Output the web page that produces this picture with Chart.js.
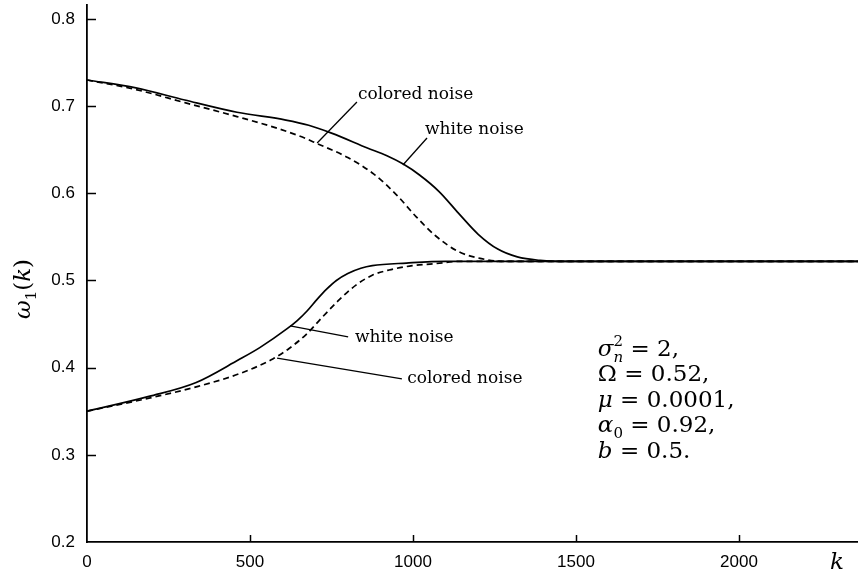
<!DOCTYPE html>
<html>
<head>
<meta charset="utf-8">
<script src="https://cdn.jsdelivr.net/npm/chart.js@4.4.1/dist/chart.umd.min.js"></script>
<style>
  html, body { margin: 0; padding: 0; background: #fff; }
  #wrap { width: 858px; height: 576px; }
</style>
</head>
<body>
<div id="wrap"><canvas id="omegaChart"></canvas></div>
<script>
// values: k (iterations) and w1(k)
const kWhiteUpper = [0, 150, 300, 460, 610, 680, 750, 860, 920, 970, 1020, 1080, 1140, 1200, 1260, 1320, 1390, 1450, 2365];
const wWhiteUpper = [0.730, 0.721, 0.707, 0.693, 0.684, 0.678, 0.669, 0.652, 0.643, 0.6335, 0.621, 0.602, 0.577, 0.553, 0.536, 0.527, 0.523, 0.522, 0.522];

const kColoredUpper = [0, 150, 300, 460, 580, 670, 700, 800, 880, 950, 1010, 1070, 1140, 1210, 1270, 1350, 2365];
const wColoredUpper = [0.730, 0.719, 0.704, 0.688, 0.675, 0.663, 0.658, 0.641, 0.622, 0.598, 0.573, 0.551, 0.533, 0.525, 0.522, 0.522, 0.522];

const kWhiteLower = [0, 190, 335, 465, 530, 615, 645, 675, 705, 735, 765, 800, 840, 875, 980, 1100, 2365];
const wWhiteLower = [0.350, 0.367, 0.383, 0.409, 0.423, 0.445, 0.454, 0.465, 0.478, 0.490, 0.500, 0.508, 0.514, 0.517, 0.520, 0.522, 0.522];

const kColoredLower = [0, 190, 335, 467, 570, 620, 672, 722, 774, 826, 875, 927, 998, 1060, 1150, 2365];
const wColoredLower = [0.350, 0.365, 0.378, 0.393, 0.410, 0.422, 0.438, 0.458, 0.478, 0.495, 0.506, 0.512, 0.517, 0.519, 0.522, 0.522];

const xTicks = [0, 500, 1000, 1500, 2000];
const yTicks = [0.2, 0.3, 0.4, 0.5, 0.6, 0.7, 0.8];

// labels with leader lines, in data coordinates
const noteLabels = ['colored noise', 'white noise', 'white noise', 'colored noise'];
const notePos  = [[831, 0.7128], [1037, 0.6726], [822, 0.434], [982, 0.388]];
const noteFrom = [[828, 0.7047], [1043, 0.6634], [801, 0.4352], [966, 0.387]];
const noteTo   = [[706, 0.6577], [969, 0.6325], [623, 0.4478], [583, 0.411]];

// parameter block
const paramLines = [
  [{t: 'σ', it: 1}, {t: '2', sup: 1, stack: 1}, {t: 'n', it: 1, sub: 1}, {t: ' = 2,'}],
  [{t: 'Ω = 0.52,'}],
  [{t: 'μ', it: 1}, {t: ' = 0.0001,'}],
  [{t: 'α', it: 1}, {t: '0', sub: 1}, {t: ' = 0.92,'}],
  [{t: 'b', it: 1}, {t: ' = 0.5.'}]
];
const paramAt = [1567, 0.4137];

function toPoints(ks, ws) {
  return ks.map((k, i) => ({x: k, y: ws[i]}));
}

function drawMath(ctx, x0, y0, parts, size) {
  let x = x0, pending = 0;
  parts.forEach(p => {
    const small = p.sup || p.sub;
    const fs = small ? Math.round(size * 0.66) : size;
    ctx.font = (p.it ? 'italic ' : '') + fs + 'px "DejaVu Serif"';
    const dy = p.sup ? -size * 0.42 : p.sub ? size * 0.26 : 0;
    ctx.fillText(p.t, x, y0 + dy);
    const w = ctx.measureText(p.t).width;
    if (p.stack) { pending = w; } else { x += Math.max(w, pending); pending = 0; }
  });
  return x - x0;
}

const annotate = {
  id: 'annotate',
  afterDraw(chart) {
    const {ctx, chartArea} = chart;
    const xs = chart.scales.x, ys = chart.scales.y;
    ctx.save();
    ctx.strokeStyle = '#000';
    ctx.fillStyle = '#000';

    // inward tick marks
    ctx.lineWidth = 1.5;
    yTicks.slice(1).forEach(v => {
      const py = Math.round(ys.getPixelForValue(v)) + 0.5;
      ctx.beginPath();
      ctx.moveTo(chartArea.left, py);
      ctx.lineTo(chartArea.left + 9, py);
      ctx.stroke();
    });
    xTicks.slice(1).forEach(v => {
      const px = Math.round(xs.getPixelForValue(v)) + 0.5;
      ctx.beginPath();
      ctx.moveTo(px, chartArea.bottom);
      ctx.lineTo(px, chartArea.bottom - 7);
      ctx.stroke();
    });

    // curve labels
    ctx.lineWidth = 1.3;
    ctx.textAlign = 'left';
    ctx.textBaseline = 'middle';
    ctx.font = '17px "DejaVu Serif"';
    noteLabels.forEach((txt, i) => {
      ctx.beginPath();
      ctx.moveTo(xs.getPixelForValue(noteFrom[i][0]), ys.getPixelForValue(noteFrom[i][1]));
      ctx.lineTo(xs.getPixelForValue(noteTo[i][0]), ys.getPixelForValue(noteTo[i][1]));
      ctx.stroke();
      ctx.fillText(txt, xs.getPixelForValue(notePos[i][0]), ys.getPixelForValue(notePos[i][1]));
    });

    // parameters
    ctx.textBaseline = 'alphabetic';
    const px0 = xs.getPixelForValue(paramAt[0]);
    const py0 = ys.getPixelForValue(paramAt[1]);
    paramLines.forEach((line, i) => drawMath(ctx, px0, py0 + i * 25.5, line, 23));

    // axis titles
    ctx.font = 'italic 23px "DejaVu Serif"';
    ctx.textAlign = 'center';
    ctx.fillText('k', chartArea.right - 21, chartArea.bottom + 27);

    ctx.translate(30, 289);
    ctx.rotate(-Math.PI / 2);
    ctx.textAlign = 'left';
    const yTitle = [{t: 'ω', it: 1}, {t: '1', sub: 1}, {t: '('}, {t: 'k', it: 1}, {t: ')'}];
    ctx.globalAlpha = 0;
    const tw = drawMath(ctx, 0, 0, yTitle, 23);
    ctx.globalAlpha = 1;
    drawMath(ctx, -tw / 2, 0, yTitle, 23);
    ctx.restore();
  }
};

const lineStyle = {borderColor: '#000', borderWidth: 1.7, pointRadius: 0, cubicInterpolationMode: 'monotone', fill: false};

new Chart(document.getElementById('omegaChart'), {
  type: 'line',
  data: {
    datasets: [
      {label: 'white noise (upper)', data: toPoints(kWhiteUpper, wWhiteUpper), ...lineStyle},
      {label: 'colored noise (upper)', data: toPoints(kColoredUpper, wColoredUpper), ...lineStyle, borderDash: [6, 4]},
      {label: 'white noise (lower)', data: toPoints(kWhiteLower, wWhiteLower), ...lineStyle},
      {label: 'colored noise (lower)', data: toPoints(kColoredLower, wColoredLower), ...lineStyle, borderDash: [6, 4]}
    ]
  },
  options: {
    responsive: true,
    maintainAspectRatio: false,
    animation: false,
    layout: {padding: {top: 5, left: 0, right: 0, bottom: 0}},
    plugins: {legend: {display: false}, tooltip: {enabled: false}},
    scales: {
      x: {
        type: 'linear', min: 0, max: 2365,
        afterBuildTicks: s => { s.ticks = xTicks.map(v => ({value: v})); },
        afterFit: s => { s.height = 34; s.paddingLeft = 0; s.paddingRight = 0; },
        grid: {display: false, drawTicks: false},
        border: {display: true, color: '#000', width: 1.8},
        ticks: {padding: 10, color: '#000', maxRotation: 0, autoSkip: false,
                callback: v => String(v),
                font: {family: 'Liberation Sans', size: 17}}
      },
      y: {
        type: 'linear', min: 0.2, max: 0.816,
        afterBuildTicks: s => { s.ticks = yTicks.map(v => ({value: v})); },
        afterFit: s => { s.width = 87; s.paddingTop = 0; s.paddingBottom = 0; },
        grid: {display: false, drawTicks: false},
        border: {display: true, color: '#000', width: 1.8},
        ticks: {padding: 12, color: '#000', autoSkip: false,
                callback: v => v.toFixed(1),
                font: {family: 'Liberation Sans', size: 17}}
      }
    }
  },
  plugins: [annotate]
});
</script>
</body>
</html>
